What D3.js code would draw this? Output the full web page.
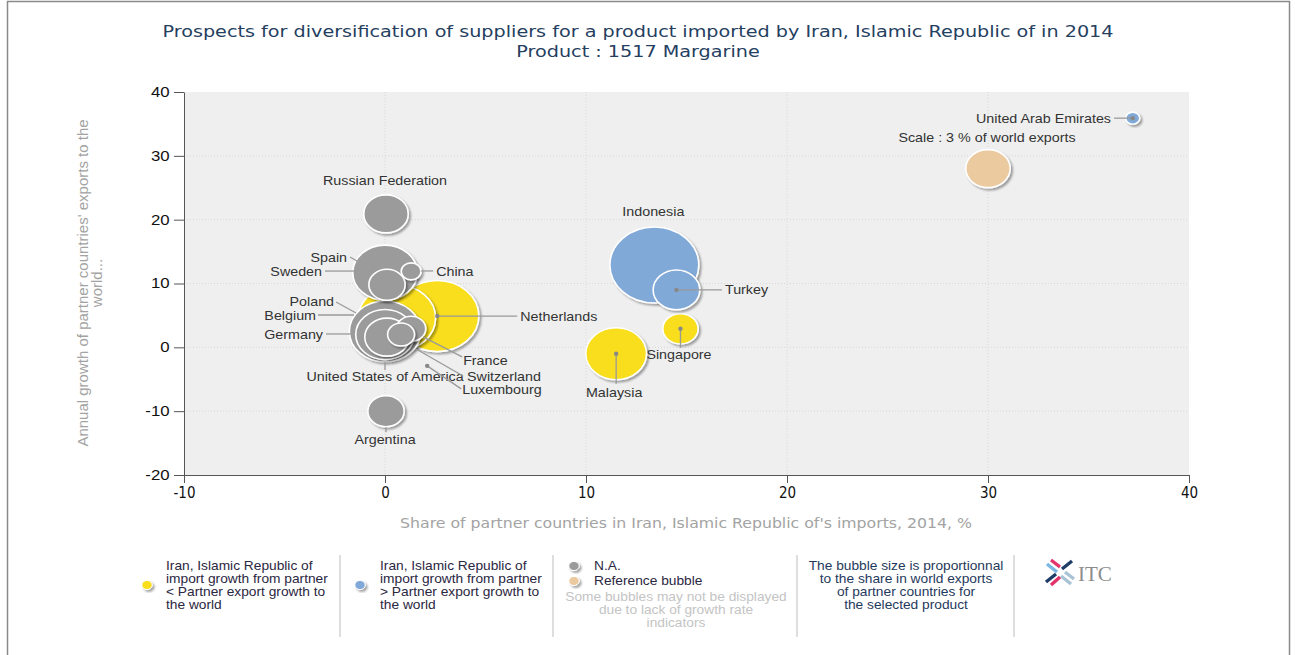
<!DOCTYPE html>
<html>
<head>
<meta charset="utf-8">
<script src="https://cdn.jsdelivr.net/npm/d3@7"></script>
<style>
  body { margin: 0; background: #fff; }
  svg { display: block; }
</style>
</head>
<body>
<div id="chart"></div>
<script>
// ---- data ----
const countries = ['Indonesia', 'Netherlands', 'Poland', 'Malaysia', 'Singapore', 'Turkey', 'United Arab Emirates',
  'Belgium', 'Sweden', 'Germany', 'Russian Federation', 'United States of America', 'Argentina', 'Spain',
  'France', 'Switzerland', 'China', 'Luxembourg'];
const shareInImports = [13.4, 2.6, 0.6, 11.5, 14.7, 14.5, 37.2, 0.0, 0.0, 0.0, 0.05, 0.1, 0.05, 0.1, 1.3, 0.8, 1.3, 2.1];
const exportGrowth = [12.9, 4.9, 4.6, -1.0, 2.9, 9.0, 35.9, 2.5, 11.7, 2.0, 20.9, 1.6, -10.0, 9.8, 2.9, 2.0, 11.9, -2.9];
const worldShare = [12, 10.5, 9, 5.6, 1.9, 3.3, 0.3, 7.7, 6.3, 5.2, 3.0, 3.0, 2.0, 2.0, 1.3, 1.1, 0.6, 0.02];
const group = ['blue', 'yellow', 'yellow', 'yellow', 'yellow', 'blue', 'blue', 'na', 'na', 'na', 'na', 'na', 'na', 'na',
  'na', 'na', 'na', 'na'];

const refBubble = { name: 'Scale : 3 % of world exports', x: 30, y: 28, size: 3 };

const xTicks = [-10, 0, 10, 20, 30, 40];
const yTicks = [-20, -10, 0, 10, 20, 30, 40];

const colors = { yellow: '#f8de1f', blue: '#80a9d8', na: '#9b9b9b', ref: '#ebcaa0' };

// label placement (px, relative to bubble centre) and connector segments
const labelLayout = {
  'Russian Federation': { dx: -1, dy: -33, anchor: 'middle' },
  'Sweden': { dx: -63, dy: -1.6, anchor: 'end', line: [-60, -1.6, -29, -1.6] },
  'Spain': { dx: -40, dy: -27.8, anchor: 'end', line: [-37, -27.8, -30, -23.8] },
  'China': { dx: 25, dy: -0.4, anchor: 'start', line: [10, -0.4, 22, -0.4] },
  'Poland': { dx: -63, dy: -17, anchor: 'end', line: [-61, -16, -41, -5] },
  'Belgium': { dx: -69, dy: -16.4, anchor: 'end', line: [-67, -16.4, -31, -16.4] },
  'Germany': { dx: -62, dy: -0.6, anchor: 'end', line: [-59, -0.6, -32, -0.6] },
  'United States of America': { dx: -2, dy: 39, anchor: 'middle', line: [-2, 25, -2, 33] },
  'France': { dx: 52, dy: 32, anchor: 'start', line: [51, 28, 12, 8] },
  'Switzerland': { dx: 66, dy: 41.4, anchor: 'start', line: [62, 41.4, 15, 14.4] },
  'Luxembourg': { dx: 35, dy: 24, anchor: 'start', line: [34, 23, 0, 0], dot: true },
  'Netherlands': { dx: 83, dy: 0, anchor: 'start', line: [80, 0, 0, 0], dot: true },
  'Argentina': { dx: -1, dy: 28, anchor: 'middle', line: [0, 16, 0, 21] },
  'Indonesia': { dx: -1, dy: -54, anchor: 'middle' },
  'Turkey': { dx: 48.5, dy: 0, anchor: 'start', line: [45.5, 0, 0, 0], dot: true },
  'Singapore': { dx: -1.5, dy: 26, anchor: 'middle', line: [0, 19, 0, 0], dot: true },
  'Malaysia': { dx: -2, dy: 39, anchor: 'middle', line: [0, 30, 0, 0], dot: true },
  'United Arab Emirates': { dx: -21.7, dy: 0, anchor: 'end', line: [-18.7, 0, 0, 0], dot: true }
};

const W = 1295, H = 655;
const plot = { left: 184, right: 1189, top: 92, bottom: 475 };
const labelFont = '"Liberation Sans", Arial, sans-serif';
const wide = 1.1; // the reference text is a little stretched sideways

const svg = d3.select('#chart').append('svg')
  .attr('width', W)
  .attr('height', H);

// shadow for bubbles
const defs = svg.append('defs');
const f = defs.append('filter').attr('id', 'shadow').attr('x', '-30%').attr('y', '-30%').attr('width', '160%').attr('height', '160%');
f.append('feGaussianBlur').attr('in', 'SourceAlpha').attr('stdDeviation', 1.3).attr('result', 'b');
f.append('feOffset').attr('in', 'b').attr('dx', 1.6).attr('dy', 1.6).attr('result', 'o');
f.append('feComponentTransfer').attr('in', 'o').attr('result', 's')
  .append('feFuncA').attr('type', 'linear').attr('slope', 0.35);
const fm = f.append('feMerge');
fm.append('feMergeNode').attr('in', 's');
fm.append('feMergeNode').attr('in', 'SourceGraphic');

// outer frame
svg.append('rect')
  .attr('x', 7.5).attr('y', 1.5).attr('width', 1282).attr('height', 700)
  .attr('fill', 'none').attr('stroke', '#8a8a8a').attr('stroke-width', 1.5);

// title
const title = svg.append('text')
  .attr('transform', 'translate(638,0) scale(1.2,1)')
  .attr('text-anchor', 'middle')
  .attr('font-family', '"DejaVu Sans", Tahoma, sans-serif')
  .attr('font-size', 16).attr('fill', '#25405f');
title.append('tspan').attr('x', 0).attr('y', 37)
  .text('Prospects for diversification of suppliers for a product imported by Iran, Islamic Republic of in 2014');
title.append('tspan').attr('x', 0).attr('y', 57).text('Product : 1517 Margarine');

const x = d3.scaleLinear().domain([-10, 40]).range([plot.left, plot.right]);
const y = d3.scaleLinear().domain([-20, 40]).range([plot.bottom, plot.top]);
const r = d3.scaleSqrt().domain([0, 3]).range([0, 19]);
const stretch = 1.17; // bubbles look wider than tall in the reference

svg.append('rect')
  .attr('x', plot.left).attr('y', plot.top)
  .attr('width', plot.right - plot.left).attr('height', plot.bottom - plot.top)
  .attr('fill', '#eeefee');

// grid
svg.append('g').selectAll('line').data(xTicks.filter(d => d > -10 && d < 40)).join('line')
  .attr('x1', d => x(d)).attr('x2', d => x(d))
  .attr('y1', plot.top).attr('y2', plot.bottom)
  .attr('stroke', '#d8d8d8').attr('stroke-dasharray', '1,2');
svg.append('g').selectAll('line').data(yTicks.filter(d => d > -20 && d < 40)).join('line')
  .attr('x1', plot.left).attr('x2', plot.right)
  .attr('y1', d => y(d)).attr('y2', d => y(d))
  .attr('stroke', '#d8d8d8').attr('stroke-dasharray', '1,2');

// axes
const xAxis = svg.append('g')
  .attr('transform', `translate(0,${plot.bottom})`)
  .call(d3.axisBottom(x).tickValues(xTicks).tickFormat(d => String(d)).tickSize(8).tickPadding(4).tickSizeOuter(0));
xAxis.selectAll('text')
  .attr('font-family', '"DejaVu Sans Condensed", "Liberation Sans Narrow", sans-serif')
  .attr('font-size', 15).attr('fill', '#111');
xAxis.select('.domain').attr('stroke', '#555');
xAxis.selectAll('.tick line').attr('stroke', '#555');

const yAxis = svg.append('g')
  .attr('transform', `translate(${plot.left},0)`)
  .call(d3.axisLeft(y).tickValues(yTicks).tickFormat(d => String(d)).tickSize(10).tickPadding(2).tickSizeOuter(0));
yAxis.selectAll('text')
  .attr('font-family', labelFont)
  .attr('font-size', 14).attr('fill', '#111')
  .attr('transform', 'scale(1.2,1)');
yAxis.select('.domain').attr('stroke', '#555');
yAxis.selectAll('.tick line').attr('stroke', '#555');

// axis titles
svg.append('text')
  .attr('transform', 'translate(686,528) scale(1.25,1)')
  .attr('text-anchor', 'middle')
  .attr('font-family', '"DejaVu Sans Condensed", "Liberation Sans Narrow", sans-serif')
  .attr('font-size', 14).attr('fill', '#a3a3a3')
  .text("Share of partner countries in Iran, Islamic Republic of's imports, 2014, %");

const yt = svg.append('text')
  .attr('transform', 'translate(0,283) rotate(-90)')
  .attr('text-anchor', 'middle')
  .attr('font-family', labelFont).attr('font-size', 15).attr('fill', '#a3a3a3');
yt.append('tspan').attr('x', 0).attr('y', 88).text("Annual growth of partner countries' exports to the");
yt.append('tspan').attr('x', 0).attr('y', 102).text('world...');

// bubbles
const points = countries.map((name, i) => ({
  name: name, x: shareInImports[i], y: exportGrowth[i], size: worldShare[i], group: group[i]
}));
const order = { yellow: 0, blue: 1, na: 2 };
const drawn = points.slice().sort((a, b) => order[a.group] - order[b.group] || b.size - a.size);
drawn.push(Object.assign({ group: 'ref' }, refBubble));

const bubbles = svg.append('g');
bubbles.selectAll('ellipse').data(drawn).join('ellipse')
  .attr('cx', d => x(d.x)).attr('cy', d => y(d.y))
  .attr('rx', d => Math.max(r(d.size) * stretch, 1.5))
  .attr('ry', d => Math.max(r(d.size), 1.5))
  .attr('fill', d => colors[d.group])
  .attr('stroke', '#fff').attr('stroke-width', d => d.size < 0.1 ? 0 : 1.6)
  .attr('filter', d => d.size < 0.1 ? null : 'url(#shadow)');

// text helper: sideways stretch around the anchor point
function wideText(sel, tx, ty, str, anchor) {
  return sel.append('text')
    .attr('transform', `translate(${tx},${ty}) scale(${wide},1)`)
    .attr('dy', '0.35em')
    .attr('text-anchor', anchor)
    .attr('font-family', labelFont).attr('font-size', 13)
    .attr('fill', '#333')
    .text(str);
}

// connectors, dots and labels
const labels = svg.append('g');
points.forEach(d => {
  const L = labelLayout[d.name];
  const cx = x(d.x), cy = y(d.y);
  if (L.line) {
    labels.append('line')
      .attr('x1', cx + L.line[0]).attr('y1', cy + L.line[1])
      .attr('x2', cx + L.line[2]).attr('y2', cy + L.line[3])
      .attr('stroke', '#9a9a9a').attr('stroke-width', 1.3);
  }
  if (L.dot) {
    labels.append('circle').attr('cx', cx).attr('cy', cy).attr('r', 2.2).attr('fill', '#888');
  }
  wideText(labels, cx + L.dx, cy + L.dy, d.name, L.anchor);
});
wideText(labels, x(refBubble.x) - 1, y(refBubble.y) - 31.6, refBubble.name, 'middle');

// ---- legend ----
const legend = svg.append('g').attr('font-family', labelFont).attr('font-size', 12.5);
[340, 553, 797, 1014].forEach(lx => {
  legend.append('line').attr('x1', lx).attr('x2', lx).attr('y1', 555).attr('y2', 637)
    .attr('stroke', '#c8c8c8').attr('stroke-width', 1.2);
});

function legendDot(cx, cy, fill) {
  legend.append('ellipse').attr('cx', cx).attr('cy', cy).attr('rx', 5.2).attr('ry', 4.6)
    .attr('fill', fill).attr('stroke', '#fff').attr('stroke-width', 1).attr('filter', 'url(#shadow)');
}
function legendLines(lx, ly, lines, fill, anchor) {
  const t = legend.append('text')
    .attr('transform', `translate(${lx},0) scale(${wide},1)`)
    .attr('fill', fill).attr('text-anchor', anchor || 'start');
  lines.forEach((s, i) => t.append('tspan').attr('x', 0).attr('y', ly + i * 13).text(s));
}

legendDot(147, 585, colors.yellow);
legendLines(166, 570, ['Iran, Islamic Republic of', 'import growth from partner', '< Partner export growth to', 'the world'], '#2b2742');
legendDot(360, 585, colors.blue);
legendLines(380, 570, ['Iran, Islamic Republic of', 'import growth from partner', '> Partner export growth to', 'the world'], '#2b2742');
legendDot(574, 566, colors.na);
legendDot(574, 581, colors.ref);
legendLines(594, 570, ['N.A.'], '#2b2742');
legendLines(594, 585, ['Reference bubble'], '#2b2742');
legendLines(676, 601, ['Some bubbles may not be displayed', 'due to lack of growth rate', 'indicators'], '#c4c4c4', 'middle');
legendLines(906, 570, ['The bubble size is proportionnal', 'to the share in world exports', 'of partner countries for', 'the selected product'], '#1f3a5c', 'middle');

// ITC logo
const logo = legend.append('g').attr('stroke-width', 3.4).attr('stroke-linecap', 'butt');
[
  [1047, 564, 1057, 572, '#7ab8e3'], [1051, 560, 1060, 567, '#e2336b'],
  [1061, 576, 1071, 584, '#a9c3d6'], [1065, 572, 1074, 579, '#a9c3d6'],
  [1072, 561, 1062, 569, '#1f3d66'], [1056, 574, 1046, 582, '#1f3d66'],
  [1060, 577, 1051, 585, '#e2336b']
].forEach(s => {
  logo.append('line').attr('x1', s[0]).attr('y1', s[1]).attr('x2', s[2]).attr('y2', s[3]).attr('stroke', s[4]);
});
legend.append('text').attr('x', 1078).attr('y', 581)
  .attr('font-family', '"Liberation Serif", "DejaVu Serif", serif').attr('font-size', 21)
  .attr('fill', '#8d8d8d').text('ITC');
</script>
</body>
</html>
